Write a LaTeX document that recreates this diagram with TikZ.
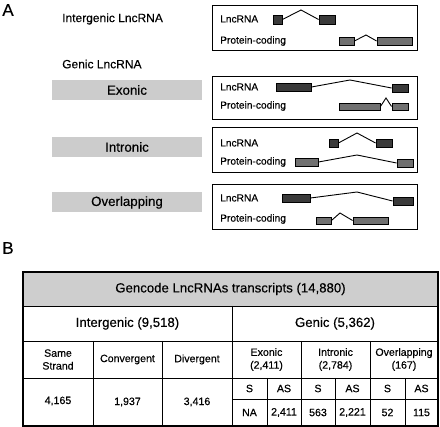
\documentclass[tikz,border=0pt]{standalone}
\usepackage{fontspec}
\setmainfont{Liberation Sans}[FakeBold=0.35]
\usetikzlibrary{fit}
\definecolor{lblgray}{RGB}{204,204,204}
\definecolor{hdrgray}{RGB}{206,206,206}
\definecolor{lncfill}{RGB}{58,58,58}
\definecolor{pcfill}{RGB}{112,112,112}
\begin{document}
\begin{tikzpicture}[x=1pt,y=-1pt,
  panel/.style={font=\fontsize{17}{20}\selectfont, inner sep=0},
  cat/.style={font=\fontsize{12}{14}\selectfont, anchor=west, inner sep=0},
  lbl/.style={fill=lblgray, inner sep=0, minimum width=150pt, minimum height=20pt, font=\fontsize{13.3}{15}\selectfont},
  gbox/.style={draw, line width=1.2pt, inner sep=0, minimum width=205pt, anchor=north west},
  gtxt/.style={font=\fontsize{10.2}{12}\selectfont, anchor=west, inner sep=0},
  lncex/.style={draw=black, fill=lncfill, line width=0.9pt, inner sep=0},
  pcex/.style={draw=black, fill=pcfill, line width=0.9pt, inner sep=0},
  intron/.style={line width=0.9pt},
  grid/.style={line width=0.9pt},
  big/.style={font=\fontsize{13.2}{15}\selectfont, inner sep=0},
  cell/.style={font=\fontsize{10.6}{12.8}\selectfont, inner sep=0, align=center}
]
\useasboundingbox (0,0) rectangle (440,427);

% ---------- Panel A ----------
\node[panel] (A) at (8,10) {A};
\node[cat] (intergenic) at (62,19) {Intergenic LncRNA};
\node[cat] (genic) at (62,64) {Genic LncRNA};
\node[lbl] (exl) at (127,90) {Exonic};
\node[lbl] (inl) at (127,147) {Intronic};
\node[lbl] (ovl) at (127,202.5) {Overlapping};

% boxes
\node[gbox, minimum height=45pt] (b1) at (212,5) {};
\node[gbox, minimum height=43pt] (b2) at (212,76) {};
\node[gbox, minimum height=45pt] (b3) at (212,127) {};
\node[gbox, minimum height=45pt] (b4) at (212,184) {};

% box 1: intergenic
\node[gtxt] (t1a) at (220,19) {LncRNA};
\node[gtxt] (t1b) at (220,41) {Protein-coding};
\node[lncex, fit={(273,15)(282,24)}] (a11) {};
\node[lncex, fit={(319,15)(335,24)}] (a12) {};
\coordinate (k1a) at (301,10);
\draw[intron] (a11.east) -- (k1a) -- (a12.west);
\node[pcex, fit={(339,37)(354,45)}] (p11) {};
\node[pcex, fit={(377,37)(412,45)}] (p12) {};
\coordinate (k1b) at (366,35);
\draw[intron] (p11.east) -- (k1b) -- (p12.west);

% box 2: exonic
\node[gtxt] (t2a) at (220,87) {LncRNA};
\node[gtxt] (t2b) at (220,106) {Protein-coding};
\node[lncex, fit={(276,83)(311,91)}] (a21) {};
\node[lncex, fit={(392,84)(408,92)}] (a22) {};
\coordinate (k2a) at (350,80);
\draw[intron] (a21.east) -- (k2a) -- (a22.west);
\node[pcex, fit={(339,103)(380,110)}] (p21) {};
\node[pcex, fit={(392,103)(408,110)}] (p22) {};
\coordinate (k2b) at (386,98);
\draw[intron] (p21.east) -- (k2b) -- (p22.west);

% box 3: intronic
\node[gtxt] (t3a) at (220,143) {LncRNA};
\node[gtxt] (t3b) at (220,162) {Protein-coding};
\node[lncex, fit={(329,139)(338,147)}] (a31) {};
\node[lncex, fit={(376,139)(392,147)}] (a32) {};
\coordinate (k3a) at (357,133);
\draw[intron] (a31.east) -- (k3a) -- (a32.west);
\node[pcex, fit={(295,158)(318,166)}] (p31) {};
\node[pcex, fit={(397,159)(413,167)}] (p32) {};
\coordinate (k3b) at (357,155);
\draw[intron] (p31.east) -- (k3b) -- (p32.west);

% box 4: overlapping
\node[gtxt] (t4a) at (220,198) {LncRNA};
\node[gtxt] (t4b) at (220,219) {Protein-coding};
\node[lncex, fit={(282,194)(310,202)}] (a41) {};
\node[lncex, fit={(393,197)(413,205)}] (a42) {};
\coordinate (k4a) at (357,192);
\draw[intron] (a41.east) -- (k4a) -- (a42.west);
\node[pcex, fit={(316,217)(331,224)}] (p41) {};
\node[pcex, fit={(353,217)(388,224)}] (p42) {};
\coordinate (k4b) at (340,213);
\draw[intron] (p41.east) -- (k4b) -- (p42.west);

% ---------- Panel B ----------
\node[panel] (B) at (8,248) {B};

\fill[hdrgray] (23,272) rectangle (438,306);
\draw[grid] (23,306) -- (438,306);
\draw[grid] (23,341) -- (438,341);
\draw[grid] (23,378) -- (438,378);
\draw[grid] (232,399) -- (438,399);
\draw[grid] (232,306) -- (232,426);
\foreach \xx in {93,162,301,370} \draw[grid] (\xx,341) -- (\xx,426);
\foreach \xx in {267,335,405} \draw[grid] (\xx,378) -- (\xx,426);
\draw[line width=1.6pt] (23,272) rectangle (438,426);

\node[big] (hdr) at (230.5,289) {Gencode LncRNAs transcripts (14,880)};
\node[big] (intg) at (127.5,323.5) {Intergenic (9,518)};
\node[big] (gen) at (335,323.5) {Genic (5,362)};

\node[cell] (same) at (58,359.5) {Same\\Strand};
\node[cell] (conv) at (127.5,359.5) {Convergent};
\node[cell] (div) at (197,359.5) {Divergent};
\node[cell] (exo) at (266.5,359.5) {Exonic\\(2,411)};
\node[cell] (intr) at (335.5,359.5) {Intronic\\(2,784)};
\node[cell] (ovp) at (404,359.5) {Overlapping\\(167)};

\node[cell] (v1) at (58,401) {4,165};
\node[cell] (v2) at (127.5,402) {1,937};
\node[cell] (v3) at (197,402) {3,416};

\node[cell] (s1) at (249.5,388.5) {S};
\node[cell] (as1) at (284,388.5) {AS};
\node[cell] (s2) at (318,388.5) {S};
\node[cell] (as2) at (352.5,388.5) {AS};
\node[cell] (s3) at (387.5,388.5) {S};
\node[cell] (as3) at (421.5,388.5) {AS};

\node[cell] (n1) at (249.5,412.5) {NA};
\node[cell] (n2) at (284,412.5) {2,411};
\node[cell] (n3) at (318,412.5) {563};
\node[cell] (n4) at (352.5,412.5) {2,221};
\node[cell] (n5) at (387.5,412.5) {52};
\node[cell] (n6) at (421.5,412.5) {115};
\end{tikzpicture}
\end{document}
